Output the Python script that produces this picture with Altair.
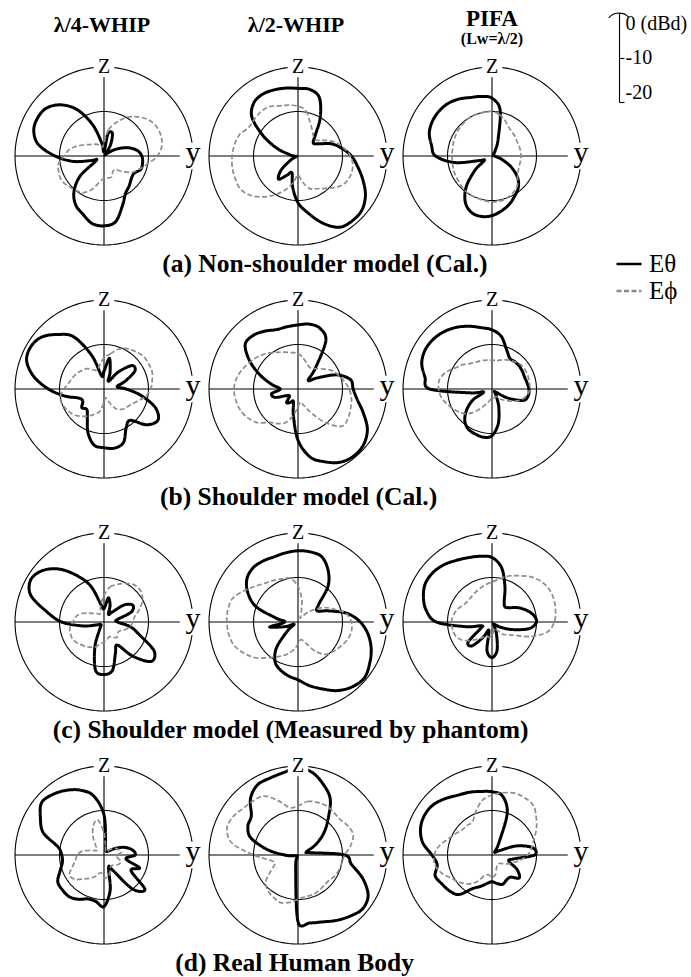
import altair as alt
import pandas as pd

# Radiation patterns in the y-z plane, sampled every 10 degrees measured
# from +z towards +y.  Values are dB above the -20 dBd centre of the plot.
ANGLES = list(range(0, 360, 10))

# (a) Non-shoulder model (Cal.)
A1_ETHETA = [1, 5, 5.5, 3, 0.5, 1, 3, 5.5, 7.5, 8.5, 8.8, 8.8, 7.8, 8, 8.8, 9.7, 12, 15,
             15.7, 15.4, 13.9, 12.7, 10.5, 7, 2, 3, 7, 11, 15, 16.8, 17.2, 16.8, 15, 12, 7.5, 3]
A1_EPHI = [3, 6, 8, 10, 11.5, 12.8, 13.5, 13.6, 13.2, 12, 10, 8.5, 7.3, 5.5, 4, 4, 5, 5,
           5, 6, 8, 9.5, 10, 10.5, 11, 10.8, 10.4, 9, 8, 6.5, 5, 4, 3.5, 3, 2.5, 2]
A2_ETHETA = [15.2, 15.2, 14, 10, 6, 4.5, 5.5, 8, 10, 12, 13.6, 15.5, 17.5, 18.8, 19, 18.5, 16, 13,
             10.5, 7, 4, 5, 6.8, 5, 2, 0.5, 0.5, 1, 2, 5, 9, 13.5, 15.5, 16, 15.8, 15.5]
A2_EPHI = [11.2, 10.3, 8, 6.5, 5.5, 5.5, 7, 9, 10.4, 11.8, 12.5, 12.6, 12.2, 11, 9.5, 8.5, 7.8, 6,
           4.3, 6, 8, 10, 12, 13.8, 14.9, 15, 15, 14.8, 14.5, 14, 12.8, 12.8, 13, 12.8, 12, 11.6]
A3_ETHETA = [13, 10.5, 4, 1.5, 0.5, 0.5, 0.5, 0.5, 0.5, 0.5, 1, 2.5, 5, 7.5, 9.2, 10.3, 11.5, 12.5,
             13.4, 13.8, 13.5, 12, 9, 5, 2, 3, 8.5, 12.7, 13.8, 15, 15.5, 15.6, 15.4, 14.8, 14, 13.6]
A3_EPHI = [10, 9.5, 8.5, 7.5, 7, 6.8, 6.5, 6.5, 6.5, 6.5, 6.5, 6.5, 6.8, 7.5, 8.8, 9.5, 10, 10.3,
           10.3, 10.2, 10, 10, 9.8, 9.5, 9.3, 9.2, 9, 9, 9, 9.2, 9.4, 9.6, 9.8, 10, 10, 10]

# (b) Shoulder model (Cal.)
B1_ETHETA = [4, 7, 4, 2, 5, 8.2, 8, 5, 3, 5, 8.5, 12.3, 14, 12.5, 9.2, 10, 12.8, 13.5,
             13.2, 12.8, 10.5, 7.5, 6, 6.5, 5.5, 6, 9, 12.5, 16, 18.5, 19, 18.2, 16, 13.5, 8, 3]
B1_EPHI = [7, 8, 9.5, 10.5, 11, 11.5, 11.5, 11.5, 11, 10.5, 9.5, 8, 7, 6.5, 6, 5, 3, 2,
           3, 5, 6, 7, 8, 9, 9.5, 10, 10, 9, 8, 7.5, 7, 6.5, 6, 5, 4.5, 5.5]
B2_ETHETA = [14.4, 14.8, 14.5, 12.5, 6, 3, 5, 9.3, 12, 12.4, 13.5, 15.6, 18, 19.3, 19.6, 19, 17.4, 15.5,
             11.5, 6, 3, 3.5, 4, 2.5, 3, 5.5, 6, 4, 6, 9, 12.5, 15.5, 15.7, 15, 14.2, 14.2]
B2_EPHI = [8, 7, 6, 5.5, 6, 7, 8.5, 9.5, 10.5, 11.5, 12.2, 12.6, 13, 13, 10, 6.5, 4, 3,
           4, 6, 8, 9, 9.8, 11.8, 13, 13.8, 14.2, 14.4, 14, 13.2, 12.3, 11.5, 10.5, 9.5, 8.8, 8.3]
B3_ETHETA = [13.3, 12, 9.5, 8, 8, 8, 7.9, 7.8, 8, 8.3, 8.3, 7.5, 4, 1, 1, 2, 4.5, 8,
             10.5, 11, 10.8, 10.5, 9.5, 7.5, 5, 2, 5, 14, 15.3, 16.8, 17.4, 17.3, 16.8, 16, 15, 14]
B3_EPHI = [6.5, 6.5, 7, 7.5, 8, 8.5, 8.6, 8.6, 8.5, 8.5, 8, 7, 5.5, 4, 3, 2, 2, 2,
           2, 2.5, 3.5, 5, 7, 8.5, 9.5, 10.5, 11.5, 12, 12, 11, 9.5, 8.5, 7.5, 7, 6.8, 6.6]

# (c) Shoulder model (Measured by phantom)
C1_ETHETA = [3, 5.5, 4, 2, 3, 6, 7.5, 6.5, 3, 3, 6, 8.5, 13, 13.8, 10, 6, 7.5, 11,
             11.8, 11, 6, 2, 1, 1, 1, 2, 5, 9.5, 13, 17.5, 19, 18, 15.5, 12, 8.5, 4]
C1_EPHI = [6, 8, 9, 10, 10.8, 10.8, 10, 8.5, 7, 6.5, 6, 5, 4, 4, 4.5, 4, 3.5, 4,
           4.5, 5, 6, 6.5, 7, 7.5, 8, 8, 7.8, 7, 6.5, 5.5, 4, 3, 2.5, 2, 2.5, 4]
C2_ETHETA = [16, 16, 15.6, 13.5, 10.5, 6, 5, 7.3, 11.2, 14, 16, 17.5, 18.6, 19.5, 19, 17.8, 16, 14.5,
             13, 12.3, 11.5, 10.3, 7.5, 3, 1, 3, 6.5, 3, 5, 10, 13, 15, 15.8, 15.8, 15.6, 15.8]
C2_EPHI = [8, 5, 2, 1, 2, 4, 6.5, 8.5, 11, 12, 12.2, 11.8, 11, 10.3, 9.5, 7.5, 5, 4,
           5, 6.5, 7.8, 9, 10.5, 12.5, 14, 15.3, 15.8, 16, 16, 15.6, 14, 12.5, 11.4, 10.8, 10.3, 10]
C3_ETHETA = [14.5, 12.4, 8.5, 5.5, 4.5, 5, 6.5, 8, 9.4, 10, 8.5, 5, 2.5, 1, 0.5, 1, 3, 6.5,
             8, 6.5, 2, 4, 7, 7, 3, 2.5, 6, 12.5, 15, 16.4, 17.3, 17.3, 16.8, 16, 15.4, 15]
C3_EPHI = [9, 9.8, 11, 12, 13.3, 14.3, 14.8, 14.8, 14.5, 14, 12.7, 9.5, 6, 4.5, 3.5, 2, 1.5, 2,
           3, 3.5, 3.5, 4, 5, 6.5, 8, 8.8, 9, 9.1, 8.8, 8.3, 7.5, 7.2, 7.3, 7.6, 8, 8.5]

# (d) Real Human Body
D1_ETHETA = [9, 2, 1, 1, 1, 1.5, 3, 5, 6.5, 7, 5, 8.5, 7, 12, 10, 4, 3, 8,
             11.6, 10.6, 10.5, 11.5, 12.2, 12.2, 12, 10.5, 9.5, 9.5, 10.5, 14.5, 16.5, 18.3, 17.8, 16.8, 15.5, 13.5]
D1_EPHI = [5, 2, 1, 1, 1, 2, 3, 3.5, 4, 3, 3, 4, 4, 3.5, 3, 3, 4, 5,
           5, 4, 5, 6, 7, 8.5, 9, 7.5, 6.5, 6, 5, 3, 2, 2, 3, 5, 7, 8]
D2_ETHETA = [19.6, 18.8, 16.8, 14.5, 10.5, 7.5, 4.5, 2, 3, 10.5, 12.2, 15.5, 18.2, 18.9, 18, 17, 16, 15.5,
             15, 3, 0.5, 0.5, 0.5, 0.5, 0.5, 0.5, 1, 3, 7, 11.3, 13, 13.7, 16.6, 18.2, 18.4, 18.8]
D2_EPHI = [11, 12.2, 12.6, 12.8, 12.5, 12.4, 13, 13.2, 12, 10.5, 10, 9.8, 9.5, 9, 9, 9.3, 9.5, 9.5,
           10, 10.8, 11.4, 11, 10.5, 9.5, 7, 5.5, 6.5, 10, 15, 17, 17, 16.2, 15.8, 15.3, 13, 10.8]
D3_ETHETA = [14.2, 13.5, 10, 3, 1, 1, 2, 6, 9.3, 9.6, 5, 4, 6.5, 8, 6.5, 6.5, 7, 6.5,
             6, 6.5, 7.5, 8.7, 11.6, 12.5, 13, 13.6, 12.5, 13.5, 15.8, 17.1, 17.6, 17.4, 16.5, 15.5, 15, 14.5]
D3_EPHI = [13.5, 14.2, 14.8, 14.8, 14.5, 13, 11.5, 10, 9, 8, 6.5, 5, 4, 3, 2.5, 2.5, 3, 4.5,
           5, 4.5, 5, 7, 8.5, 9.5, 10.5, 12, 13, 13, 12, 10.5, 9.5, 8.8, 8.7, 8.7, 10.5, 12.5]

COLUMN_TITLES = ["λ/4-WHIP", "λ/2-WHIP", "PIFA"]
PIFA_NOTE = "(Lw=λ/2)"
ROW_TITLES = [
    "(a) Non-shoulder model (Cal.)",
    "(b) Shoulder model (Cal.)",
    "(c) Shoulder model (Measured by phantom)",
    "(d) Real Human Body",
]
COMPONENTS = ["Eθ", "Eϕ"]
SCALE_TICKS = [0, -10, -20]

SERIF = "Liberation Serif"
HALF_SPAN = 21.8      # dB from panel centre to panel edge
PANEL_PX = 194
ROW_STEP = 233        # flush rows are stacked by spacing alone
SCALE_W = 30          # width of the strip that carries the dB scale bar

POLAR_X = "datum.rho * sin(datum.angle * PI / 180)"
POLAR_Y = "datum.rho * cos(datum.angle * PI / 180)"

# grid rings at -10 dBd and 0 dBd (radius measured from the -20 dBd centre)
ring_df = pd.DataFrame(
    [{"level": lv, "angle": a, "rho": lv + 20} for lv in (-10, 0) for a in range(0, 361, 3)]
)
# the z and y axis lines across the 0 dBd ring
axis_df = pd.DataFrame({"x": [0, -20], "y": [-20, 0], "x2": [0, 20], "y2": [20, 0]})
z_df = pd.DataFrame({"x": [0], "y": [20], "label": ["Z"]})
y_df = pd.DataFrame({"x": [20], "y": [0], "label": ["y"]})
# small cap drawn over the top of the scale bar
cap_df = pd.DataFrame({"angle": list(range(-50, 51, 10)), "rho": [3] * 11})

LEGEND = alt.Legend(
    title=None, orient="none", legendX=608, legendY=191,
    symbolType="stroke", symbolSize=625, symbolStrokeWidth=2.4,
    labelFont=SERIF, labelFontSize=25, labelColor="black", rowPadding=0, labelOffset=6,
)


def pattern_frame(e_theta, e_phi):
    return pd.DataFrame({
        "comp": ["Eθ"] * len(ANGLES) + ["Eϕ"] * len(ANGLES),
        "angle": ANGLES + ANGLES,
        "rho": e_theta + e_phi,
    })


def polar_panel(e_theta, e_phi, title=None):
    scale = alt.Scale(domain=[-HALF_SPAN, HALF_SPAN], nice=False, zero=False)
    X = alt.X("x:Q", scale=scale, axis=None)
    Y = alt.Y("y:Q", scale=scale, axis=None)

    rings = (
        alt.Chart(ring_df)
        .transform_calculate(x=POLAR_X, y=POLAR_Y)
        .mark_line(color="black", strokeWidth=1.1)
        .encode(x=X, y=Y, detail="level:N", order="angle:Q")
    )
    axes = alt.Chart(axis_df).mark_rule(color="black", strokeWidth=1.1).encode(
        x=X, y=Y, x2="x2:Q", y2="y2:Q"
    )
    curves = (
        alt.Chart(pattern_frame(e_theta, e_phi))
        .transform_calculate(x=POLAR_X, y=POLAR_Y)
        .mark_line(interpolate="cardinal-closed")
        .encode(
            x=X, y=Y, order="angle:Q",
            color=alt.Color("comp:N", scale=alt.Scale(domain=COMPONENTS, range=["#000000", "#8c8c8c"]),
                            legend=LEGEND),
            strokeDash=alt.StrokeDash("comp:N", scale=alt.Scale(domain=COMPONENTS, range=[[1, 0], [5, 2.5]]),
                                      legend=LEGEND),
            strokeWidth=alt.condition("datum.comp == 'Eθ'", alt.value(3.0), alt.value(1.7)),
        )
    )
    z_bg = alt.Chart(z_df).mark_square(size=420, color="white", opacity=1).encode(x=X, y=Y)
    z_txt = alt.Chart(z_df).mark_text(font=SERIF, fontSize=20, baseline="middle").encode(
        x=X, y=Y, text="label:N"
    )
    y_bg = alt.Chart(y_df).mark_square(size=700, color="white", opacity=1, dy=3).encode(x=X, y=Y)
    y_txt = alt.Chart(y_df).mark_text(font=SERIF, fontSize=30, baseline="alphabetic", dy=6).encode(
        x=X, y=Y, text="label:N"
    )
    panel = alt.layer(rings, axes, curves, z_bg, z_txt, y_bg, y_txt).properties(
        width=PANEL_PX, height=PANEL_PX
    )
    if title is not None:
        panel = panel.properties(title=title)
    return panel


# radial scale bar: 0 dBd at the top, -20 dBd (plot centre) at the bottom,
# drawn to the same px-per-dB as the polar panels
scale_panel = (
    alt.Chart(cap_df)
    .transform_calculate(x=POLAR_X, y="datum.rho * cos(datum.angle * PI / 180) - datum.rho")
    .mark_line(color="black", strokeWidth=1.1)
    .encode(
        x=alt.X("x:Q", axis=None,
                scale=alt.Scale(domain=[-SCALE_W * 2 * HALF_SPAN / PANEL_PX, 0], nice=False, zero=False)),
        y=alt.Y("y:Q",
                scale=alt.Scale(domain=[-20, 0], range=[43, -46], nice=False, zero=False),
                axis=alt.Axis(orient="right", values=SCALE_TICKS, title=None, grid=False,
                              domainColor="black", domainWidth=1.1, tickColor="black", tickSize=5,
                              tickWidth=1.1, labelFont=SERIF, labelFontSize=20, labelColor="black",
                              labelPadding=1, labelFlush=True, labelFlushOffset=0, labelOverlap=False,
                              labelExpr="datum.value == 0 ? '0 (dBd)' : '' + datum.value")),
        order="angle:Q",
    )
    .properties(width=SCALE_W, height=PANEL_PX)
)

title_a1 = alt.Title(COLUMN_TITLES[0], fontSize=22, offset=20, dx=-2)
title_a2 = alt.Title(COLUMN_TITLES[1], fontSize=22, offset=20, dx=-2)
title_a3 = alt.Title(COLUMN_TITLES[2], subtitle=PIFA_NOTE, fontSize=23, subtitleFontSize=16,
                     subtitlePadding=0, offset=10)


def row_title(text, dx):
    return alt.Title(text, orient="bottom", anchor="middle", fontSize=25.5, offset=-1, dx=dx)


row_a = alt.hconcat(
    polar_panel(A1_ETHETA, A1_EPHI, title_a1),
    polar_panel(A2_ETHETA, A2_EPHI, title_a2),
    polar_panel(A3_ETHETA, A3_EPHI, title_a3),
    scale_panel,
    spacing=0, bounds="flush", title=row_title(ROW_TITLES[0], -22),
)
row_b = alt.hconcat(
    polar_panel(B1_ETHETA, B1_EPHI),
    polar_panel(B2_ETHETA, B2_EPHI),
    polar_panel(B3_ETHETA, B3_EPHI),
    spacing=0, bounds="flush", title=row_title(ROW_TITLES[1], -2),
)
row_c = alt.hconcat(
    polar_panel(C1_ETHETA, C1_EPHI),
    polar_panel(C2_ETHETA, C2_EPHI),
    polar_panel(C3_ETHETA, C3_EPHI),
    spacing=0, bounds="flush", title=row_title(ROW_TITLES[2], -10),
)
row_d = alt.hconcat(
    polar_panel(D1_ETHETA, D1_EPHI),
    polar_panel(D2_ETHETA, D2_EPHI),
    polar_panel(D3_ETHETA, D3_EPHI),
    spacing=0, bounds="flush", title=row_title(ROW_TITLES[3], -6),
)

chart = (
    alt.vconcat(row_a, row_b, row_c, row_d, spacing=ROW_STEP, bounds="flush")
    .properties(padding={"left": 7, "top": 7, "right": 2, "bottom": 2}, background="white")
    .configure_view(stroke=None)
    .configure_title(font=SERIF, color="black", fontWeight="bold",
                     subtitleFont=SERIF, subtitleColor="black", subtitleFontWeight="bold")
)

chart.save("out.html", embed_options={"renderer": "svg", "actions": False})
